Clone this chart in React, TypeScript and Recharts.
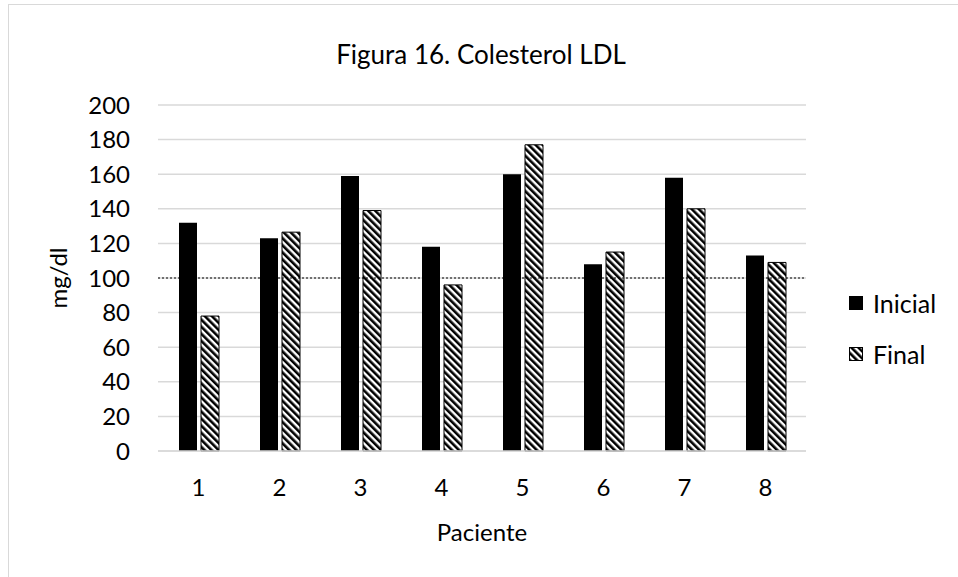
import {
  BarChart,
  Bar,
  XAxis,
  YAxis,
  CartesianGrid,
  ReferenceLine,
} from 'recharts'

const pacientes = ['1', '2', '3', '4', '5', '6', '7', '8']
const inicial = [132, 123, 159, 118, 160, 108, 158, 113]
const final = [78, 126.5, 139, 96, 177, 115, 140, 109]
const yTicks = [0, 20, 40, 60, 80, 100, 120, 140, 160, 180, 200]
const limite = 100

const chartData = pacientes.map((p, i) => ({
  paciente: p,
  Inicial: inicial[i],
  Final: final[i],
}))

const FONT = 'Lato, "Open Sans", sans-serif'

// legend sits beside the plot, outside the chart so it doesn't shrink the plot area
function LegendBox() {
  return (
    <div
      style={{
        position: 'absolute',
        left: 849,
        top: 277,
        fontFamily: FONT,
        fontSize: 25,
        color: '#000',
      }}
    >
      <div style={{ display: 'flex', alignItems: 'center', height: 51 }}>
        <svg width={14} height={14} style={{ marginRight: 10 }}>
          <rect x={0} y={0} width={14} height={14} fill="#000" />
        </svg>
        Inicial
      </div>
      <div style={{ display: 'flex', alignItems: 'center', height: 51 }}>
        <svg width={14} height={14} style={{ marginRight: 10 }}>
          <rect x={0.5} y={0.5} width={13} height={13} fill="url(#hatch)" stroke="#000" />
        </svg>
        Final
      </div>
    </div>
  )
}

export default function App() {
  return (
    <div
      style={{
        position: 'absolute',
        left: 0,
        top: 0,
        width: 958,
        height: 577,
        overflow: 'hidden',
        background: '#fff',
        fontFamily: FONT,
      }}
    >
      {/* chart frame, runs off the right and bottom edge like the original */}
      <div
        style={{
          position: 'absolute',
          left: 8,
          top: 4,
          width: 980,
          height: 600,
          border: '1px solid #d9d9d9',
        }}
      />
      <div
        style={{
          position: 'absolute',
          left: 0,
          top: 38,
          width: 962,
          textAlign: 'center',
          fontSize: 26,
          color: '#000',
        }}
      >
        Figura 16. Colesterol LDL
      </div>
      <div style={{ position: 'absolute', left: 0, top: 0 }}>
        <BarChart
          width={958}
          height={577}
          data={chartData}
          margin={{ top: 105, right: 152, bottom: 0, left: 0 }}
          barSize={18}
          barGap={4}
        >
          <defs>
            <pattern
              id="hatch"
              patternUnits="userSpaceOnUse"
              width={5}
              height={5}
              patternTransform="rotate(-45)"
            >
              <rect x={0} y={0} width={5} height={5} fill="#fff" />
              <rect x={0} y={0} width={2.6} height={5} fill="#000" />
            </pattern>
          </defs>
          <CartesianGrid vertical={false} stroke="#d9d9d9" strokeWidth={1.5} />
          <XAxis
            dataKey="paciente"
            height={126}
            tickLine={false}
            tickSize={0}
            tickMargin={28}
            axisLine={{ stroke: '#d9d9d9', strokeWidth: 1.5 }}
            tick={{ fill: '#000', fontSize: 24, fontFamily: FONT }}
            label={{
              value: 'Paciente',
              position: 'insideBottom',
              offset: 36,
              fill: '#000',
              fontSize: 24,
              fontFamily: FONT,
            }}
          />
          <YAxis
            width={158}
            domain={[0, 200]}
            ticks={yTicks}
            interval={0}
            tickLine={false}
            tickSize={0}
            tickMargin={28}
            axisLine={false}
            tick={{ fill: '#000', fontSize: 24, fontFamily: FONT }}
            label={{
              value: 'mg/dl',
              angle: -90,
              position: 'insideLeft',
              offset: 58,
              fill: '#000',
              fontSize: 24,
              fontFamily: FONT,
              style: { textAnchor: 'middle' },
            }}
          />
          <ReferenceLine
            y={limite}
            stroke="#000"
            strokeWidth={1}
            strokeDasharray="2 2"
          />
          <Bar dataKey="Inicial" fill="#000" isAnimationActive={false} />
          <Bar
            dataKey="Final"
            fill="url(#hatch)"
            stroke="#000"
            strokeWidth={1}
            isAnimationActive={false}
          />
        </BarChart>
      </div>
      <LegendBox />
    </div>
  )
}
